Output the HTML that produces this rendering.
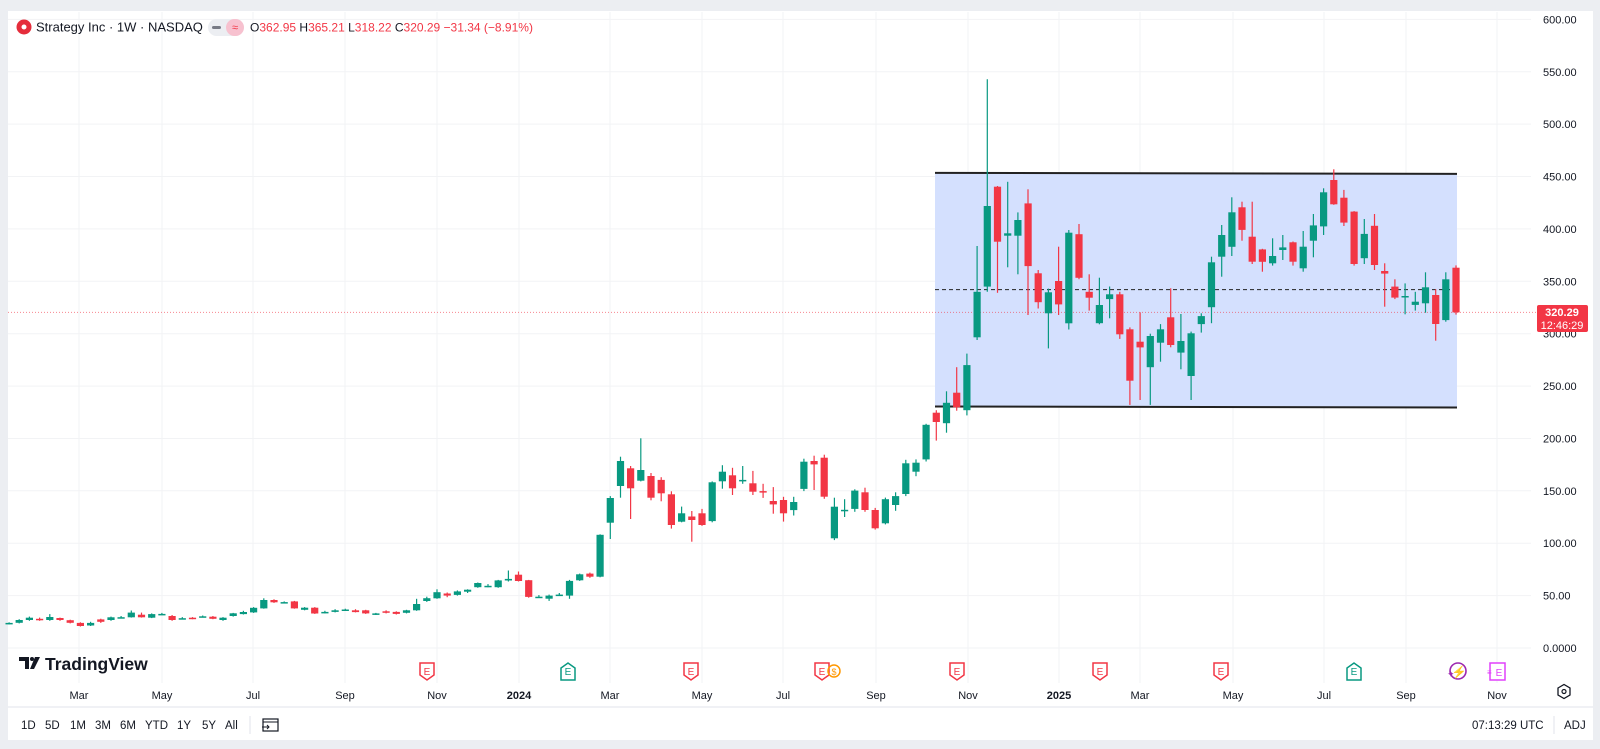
<!DOCTYPE html>
<html><head><meta charset="utf-8">
<style>
html,body{margin:0;padding:0;width:1600px;height:749px;overflow:hidden;background:#eceef2;font-family:"Liberation Sans",sans-serif;}
#card{position:absolute;left:8px;top:11px;width:1585px;height:729px;background:#fff;}
svg{position:absolute;left:0;top:0;}
</style></head><body>
<div id="card"></div>
<svg id="s" width="1600" height="749" xmlns="http://www.w3.org/2000/svg" font-family="Liberation Sans, sans-serif"></svg>
<script>
const D=[[23,24,24.5,22.5],[24,26.7,27.5,23.5],[26.7,28.9,30,26],[27.9,26.7,29,26],[26.7,29.6,32.4,26],[28.6,26.7,29,26],[26.5,24,27,23.5],[24,21,24.5,20.5],[21.5,24,25,21],[27.3,25,28,24],[26.7,29.3,30,26],[29.3,29.4,30.5,28.5],[29.3,33.8,35.8,29],[31.8,29.3,33.8,29],[29,32.4,33,28.5],[32.3,32.5,33.5,31.5],[30.5,26.7,31.5,26],[28.2,28.4,29.5,27.5],[28.9,27.9,29.5,27.5],[30.1,30.3,31,29.5],[29.9,27.9,30.5,27.5],[26.7,28.9,29.5,26],[30.5,33.1,33.5,30],[32.4,34.4,35.5,32],[34,38.4,39,33.5],[37.8,45.8,47.4,37.5],[45.8,43.6,46.5,43],[43.6,43.8,44.5,42.5],[44.5,37.8,45,37.5],[36.5,38.5,39,36],[38.5,33,39,32.5],[34.3,34.5,35.5,33],[34.5,36,37,34],[36.5,36.7,37.5,36],[36,34.3,37,34],[36,33,36.5,32.5],[32,33,33.5,31.5],[35,34,36,33],[34.5,32.6,35,32],[33.6,36,36.5,33],[36,42,47,35.5],[44.8,47.5,49,44],[47.5,53.3,56,47],[52,50,53,48.5],[50.7,54,55,50],[53.7,55.6,56,52.5],[58,62,62.5,57.5],[59.2,59.4,61,58],[58,64.5,65,57.5],[64.5,66,74,63.5],[70,64,73,63.5],[64.7,48.8,65,48],[48.8,49,50.5,48],[47,50,51,45],[50.8,51,52.5,50],
[50,64,65,47],[64.6,70.3,71,64],[71,68,72,67],[68,108,108.5,67.5],[119.6,143.2,145,104],[154.6,178.5,182.6,143.5],[171.5,152.4,173.7,123.1],[159.7,169.9,200.2,159],[164.2,143.5,167,141],[160.4,147.6,163,140],[146.7,117.4,149.6,114],[120.6,128.6,135,120],[125.5,122.2,130.8,101.5],[128.6,117.4,132.8,116.5],[121.2,158.2,159,120],[159.1,168.3,174.5,152],[164.8,152.4,172,146],[160,160.4,173.7,156.7],[157.2,149.2,169,146],[149.8,148.5,156.7,143.3],[140.3,137.1,153.6,128.2],[141.3,128.6,144.3,120.6],[131.7,139.4,144.3,126.5],[151.8,177.8,180.7,149.8],[178.5,175.3,183.5,150.8],[181.6,144.4,184.5,142.4],[104.7,134.9,143.5,103],[131.5,131.9,142,125],[132.7,150.2,151.5,130],[148.6,131.7,153,130],[131.7,114.2,133.7,113],[119,142,143.6,118],[136.5,145,148.6,131],[147,176.3,179.6,145],[168.3,176.9,180,164],[180,213,214,178],[224.6,215.7,227,198],[214.5,234,245,205.5],[243.7,229.8,268,226.5],[227,270,281,222],[296.6,340,383.7,294],[345,421.9,542.8,340],[440.3,387.8,441,339],[393.5,395.8,445,363.4],[393.5,408.5,415.8,356.7],[424.4,364.6,437.8,317.8],[357.6,330,360.8,324],[319.5,339.5,343,286],[350.3,328,383,317.8],[309.9,396.4,399,304],[395,353.4,404.7,352],[340,334.4,356.7,322],[310,327.4,353.4,309],[333,337.6,345,314.7],[337.6,299.4,340,295],[304.2,255.1,306,232],[292.4,287,320.4,236.7],[268,297.8,300,232],[291.4,304.2,309.2,273.3],[315.6,289.2,343.3,287],[281.9,293,318.8,266],[259.6,300.4,302,236.7],[309.2,316.8,319.5,301],[325.2,368.1,373.5,310],[373.5,394.2,403.7,354.4],[383,415.9,430.2,374.2],[420.6,399,426,388.8],[392.6,368.7,426,366.5],[380.5,368.7,381,359.2],[367.2,374.2,391,365],[379.9,382.4,394.2,370.3],[387.2,368.7,388,365],[362.4,383,398,359.2],[388.8,403.4,414.2,372.9],[402.5,435,438.8,394.2],[446.7,423.5,456.9,423],[429.8,406,437.2,402.8],[416.5,366.5,417,365],[372,395.2,409.5,366.5],[403,365.6,414.2,360.8],[359.8,357.3,367.2,325.8],[344.9,334.4,351.9,333],[335,336,348,318.5],[327.4,330.5,340,322],[329,344.3,358.6,320],[336.9,309.2,342.4,293.3],[313,351.9,358.6,311.4],[362.95,320.29,365.21,318.22]];
const Y=p=>648-p*1.0477, X=k=>569.5+10.19*k;
let h='';
// grid
for(let p=0;p<=600;p+=50){const y=Y(p).toFixed(1);h+=`<line x1="8" x2="1531" y1="${y}" y2="${y}" stroke="#f2f3f5"/>`;
h+=`<text x="1543" y="${(+y+4).toFixed(1)}" font-size="11" fill="#131722">${p.toFixed(2)}</text>`;}
h=h.replace('>0.00<','>0.0000<');
const gx=[79,162,253,345,437,519,610,702,783,876,968,1059,1140,1233,1324,1406,1497];
const gl=['Mar','May','Jul','Sep','Nov','2024','Mar','May','Jul','Sep','Nov','2025','Mar','May','Jul','Sep','Nov'];
gx.forEach((x,i)=>{h+=`<line x1="${x}" x2="${x}" y1="12" y2="683" stroke="#f2f3f5"/>`;
const b=(gl[i]=='2024'||gl[i]=='2025');h+=`<text x="${x}" y="699" font-size="11" text-anchor="middle" fill="#131722" ${b?'font-weight="bold"':''}>${gl[i]}</text>`;});
// box
h+=`<rect x="935" y="${Y(453)}" width="522" height="${Y(230)-Y(453)}" fill="#d4e0fe"/>`;
h+=`<line x1="935" x2="1457" y1="${Y(453.5)}" y2="${Y(452.5)}" stroke="#222" stroke-width="2"/>`;
h+=`<line x1="935" x2="1457" y1="${Y(230.5)}" y2="${Y(229.5)}" stroke="#222" stroke-width="2"/>`;
h+=`<line x1="935" x2="1457" y1="${Y(342)}" y2="${Y(342)}" stroke="#222" stroke-width="1" stroke-dasharray="4 3"/>`;
// price line
h+=`<line x1="8" x2="1537" y1="${Y(320.29)}" y2="${Y(320.29)}" stroke="#f23645" stroke-width="1" stroke-dasharray="1 2" opacity="0.6"/>`;
// candles
D.forEach((d,i)=>{const k=i-55,x=X(k),[o,c,hi,lo]=d,col=c>=o?'#089981':'#f23645';
const t=Y(Math.max(o,c)),b=Y(Math.min(o,c));
h+=`<line x1="${x.toFixed(1)}" x2="${x.toFixed(1)}" y1="${Y(hi).toFixed(1)}" y2="${Y(lo).toFixed(1)}" stroke="${col}" stroke-width="1.2"/>`;
h+=`<rect x="${(x-3.6).toFixed(1)}" y="${t.toFixed(1)}" width="7.2" height="${Math.max(1.5,b-t).toFixed(1)}" fill="${col}"/>`;});
// price label
h+=`<rect x="1537" y="305" width="51" height="27" rx="2" fill="#f23645"/><text x="1562" y="316" font-size="11" font-weight="bold" fill="#fff" text-anchor="middle">320.29</text><text x="1562" y="329" font-size="11" fill="#fff" text-anchor="middle">12:46:29</text>`;
// markers
function mk(x,col,up,lab){const y=663;
if(!up)h+=`<path d="M${x-7} ${y} h14 v12 l-7 5 l-7 -5 z" fill="#fff" stroke="${col}" stroke-width="1.5"/>`;
else h+=`<path d="M${x-7} ${y+17} h14 v-12 l-7 -5 l-7 5 z" fill="#fff" stroke="${col}" stroke-width="1.5"/>`;
h+=`<text x="${x}" y="${y+12}" font-size="10" text-anchor="middle" fill="${col}">${lab}</text>`;}
[427,691,822,957,1100,1221].forEach(x=>mk(x,'#f23645',0,'E'));
[568,1354].forEach(x=>mk(x,'#089981',1,'E'));
h+=`<circle cx="834" cy="671" r="6" fill="none" stroke="#ff9800" stroke-width="1.5"/><text x="834" y="675" font-size="9" fill="#ff9800" text-anchor="middle">$</text>`;
h+=`<circle cx="1458" cy="671" r="8" fill="none" stroke="#9c27b0" stroke-width="1.6"/><text x="1459" y="676" font-size="12" font-weight="bold" fill="#9c27b0" text-anchor="middle">⚡</text><text x="1447" y="677" font-size="9" fill="#9c27b0">✦</text>`;
h+=`<path d="M1490 663 h15 v17 h-15 z" fill="#fff" stroke="#e040fb" stroke-width="1.5"/><text x="1499" y="676" font-size="10" fill="#e040fb" text-anchor="middle">E</text><text x="1487" y="675" font-size="8" fill="#e040fb">≡</text>`;
// gear
h+=`<path d="M1558 688 l6 -3.5 l6 3.5 v7 l-6 3.5 l-6 -3.5 z" fill="none" stroke="#131722" stroke-width="1.3"/><circle cx="1564" cy="691.5" r="2" fill="none" stroke="#131722" stroke-width="1.2"/>`;
// separators
h+=`<line x1="8" x2="1593" y1="707" y2="707" stroke="#e0e3eb"/>`;
h+=`<line x1="250" x2="250" y1="716" y2="734" stroke="#e0e3eb"/><line x1="1554" x2="1554" y1="716" y2="734" stroke="#e0e3eb"/>`;
// toolbar
[['1D',21],['5D',45],['1M',70],['3M',95],['6M',120],['YTD',145],['1Y',177],['5Y',202],['All',225]].forEach(([t,x])=>h+=`<text x="${x}" y="729" font-size="11.5" fill="#131722">${t}</text>`);
h+=`<rect x="263" y="719" width="15" height="12" fill="none" stroke="#131722" stroke-width="1.2"/><line x1="263" x2="278" y1="722" y2="722" stroke="#131722"/><path d="M262 727 h7 m-2 -2 l2 2 l-2 2" fill="none" stroke="#131722"/>`;
h+=`<text x="1472" y="729" font-size="11.5" fill="#131722">07:13:29 UTC</text><text x="1564" y="729" font-size="11.5" fill="#131722">ADJ</text>`;
// logo
h+=`<path d="M19 657 h10 v12 h-4 v-8 h-6 z" fill="#131722"/><circle cx="32" cy="659" r="2" fill="#131722"/><path d="M35 657 h5 l-6 12 h-4 z" fill="#131722"/>`;
h+=`<text x="45" y="670" font-size="17.5" font-weight="bold" fill="#131722">TradingView</text>`;
// legend
h+=`<circle cx="24" cy="27" r="7.5" fill="#e52d3b"/><circle cx="24" cy="27" r="2.5" fill="#fff"/>`;
h+=`<text x="36" y="31.5" font-size="13" fill="#131722">Strategy Inc · 1W · NASDAQ</text>`;
h+=`<rect x="208" y="19" width="36" height="17" rx="8.5" fill="#eceef2"/><rect x="226" y="19" width="18" height="17" rx="8.5" fill="#f7c1cf"/><rect x="212" y="26" width="9" height="3" rx="1.5" fill="#787b86"/><text x="235" y="31" font-size="11" text-anchor="middle" fill="#f23645">≈</text>`;
h+=`<text x="250" y="31.5" font-size="12" fill="#f23645"><tspan fill="#131722">O</tspan>362.95 <tspan fill="#131722">H</tspan>365.21 <tspan fill="#131722">L</tspan>318.22 <tspan fill="#131722">C</tspan>320.29 −31.34 (−8.91%)</text>`;
document.getElementById('s').innerHTML=h;
</script>
</body></html>
